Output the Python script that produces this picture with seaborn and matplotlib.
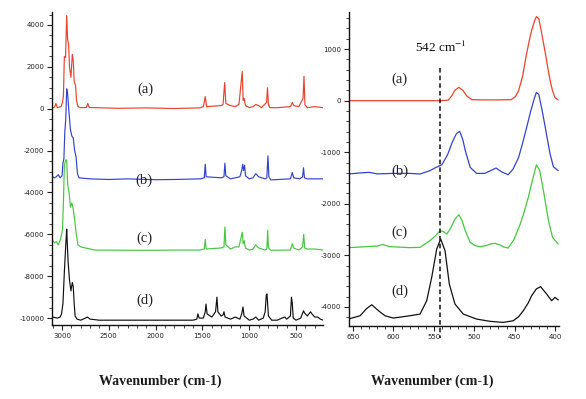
import matplotlib
matplotlib.use("Agg")
import matplotlib.pyplot as plt
import seaborn as sns
import pandas as pd
from matplotlib.ticker import MultipleLocator

# ---------------- data ----------------
# Left panel: full spectra, wavenumber (cm-1) vs intensity (offset)
left_wn_a = [3100, 3080, 3065, 3050, 3010, 2995, 2985, 2975, 2962, 2950, 2940, 2930, 2920, 2905,
             2890, 2880, 2870, 2855, 2845, 2830, 2800, 2740, 2725, 2710, 2400, 2100, 1800, 1530,
             1490, 1470, 1455, 1300, 1280, 1262, 1250, 1200, 1150, 1110, 1075, 1065, 1055, 1040,
             1000, 960, 930, 900, 870, 815, 805, 795, 780, 700, 560, 540, 525, 470, 425, 415,
             405, 380, 300, 210]
left_a = [50, 80, 250, 50, 100, 300, 600, 2500, 2450, 4450, 3300, 3100, 2000, 1500,
          2600, 2300, 1300, 1100, 400, 100, 50, 60, 250, 60, 20, 40, 10, 40,
          100, 580, 100, 150, 200, 1250, 250, 150, 100, 200, 1780, 400, 500, 150,
          50, 100, 200, 150, 50, 300, 1000, 200, 50, 50, 100, 300, 150, 100, 500, 1550,
          200, 50, 100, 50]

left_wn_b = [3100, 3080, 3060, 3040, 3020, 3000, 2990, 2980, 2970, 2960, 2950, 2940, 2925, 2910,
             2895, 2880, 2865, 2850, 2835, 2820, 2700, 2500, 2300, 2000, 1800, 1520, 1480, 1470,
             1460, 1300, 1270, 1260, 1250, 1200, 1100, 1080, 1070, 1060, 1050, 1040, 1000, 960,
             930, 900, 830, 812, 800, 790, 770, 560, 540, 525, 460, 430, 420, 410, 380, 300, 210]
left_b = [-3250, -3300, -3250, -3150, -3300, -3200, -2600, -2400, -1100, -500, 950, 700, -200, -1000,
          -1300, -1400, -2000, -2300, -3100, -3300, -3350, -3380, -3350, -3390, -3380, -3350, -3300, -2650,
          -3250, -3300, -3250, -2600, -3200, -3350, -3250, -2950, -2650, -2950, -2700, -3200, -3350, -3300,
          -3100, -3250, -3350, -3300, -2250, -3250, -3400, -3350, -3050, -3300, -3350, -3250, -2820, -3300,
          -3350, -3350, -3350]

left_wn_c = [3100, 3080, 3060, 3040, 3020, 3010, 2995, 2985, 2975, 2960, 2950, 2940, 2925, 2910,
             2895, 2880, 2865, 2850, 2830, 2800, 2750, 2700, 2650, 2300, 2000, 1800, 1530, 1480,
             1470, 1460, 1300, 1270, 1260, 1250, 1200, 1150, 1110, 1075, 1065, 1055, 1040, 1000,
             960, 930, 900, 830, 812, 803, 795, 770, 560, 540, 525, 470, 430, 418, 408, 380, 300, 210]
left_c = [-6300, -6400, -6350, -6500, -6300, -6100, -5800, -4500, -2700, -2450, -2450, -3600, -4000, -4700,
          -4500, -4800, -5300, -5900, -6500, -6600, -6650, -6700, -6750, -6760, -6760, -6750, -6750, -6700,
          -6250, -6700, -6650, -6600, -5650, -6500, -6700, -6600, -6600, -5900, -6450, -6300, -6650, -6750,
          -6700, -6500, -6650, -6750, -6700, -5800, -6650, -6760, -6750, -6450, -6650, -6750, -6600, -6000,
          -6650, -6700, -6700, -6750]

left_wn_d = [3100, 3050, 3020, 3005, 2990, 2975, 2960, 2950, 2945, 2935, 2920, 2905, 2890, 2880,
             2870, 2860, 2840, 2800, 2750, 2730, 2700, 2600, 2200, 1800, 1600, 1560, 1548, 1535,
             1490, 1470, 1462, 1450, 1400, 1360, 1345, 1335, 1300, 1280, 1270, 1258, 1200, 1150,
             1100, 1080, 1067, 1055, 1000, 960, 930, 900, 850, 830, 818, 811, 805, 795, 760, 700,
             650, 620, 600, 560, 549, 540, 530, 500, 450, 420, 410, 380, 345, 330, 300, 270, 240, 210]
left_d = [-9950, -10000, -9950, -9800, -9300, -7800, -6500, -5750, -6300, -7300, -8200, -8700, -8300, -8500,
          -9300, -9900, -10050, -10100, -10000, -9950, -10050, -10100, -10100, -10100, -10100, -10050, -9800, -10000,
          -10000, -9700, -9330, -9800, -9950, -9700, -9000, -9700, -9900, -9850, -9700, -9950, -10050, -9950,
          -10050, -9800, -9470, -9900, -10100, -10050, -9950, -10100, -10000, -9700, -8900, -8850, -9200, -9900, -10100, -10100,
          -10000, -9950, -10050, -9900, -9000, -9300, -10000, -10100, -10000, -9650, -9750, -9900, -9700, -9800, -9950, -9950, -10050, -10100]

# Right panel: 400-650 cm-1 region
right_wn_a = [655, 620, 590, 560, 542, 532, 528, 524, 519, 514, 509, 503, 490, 470, 454, 449, 445,
              440, 436, 432, 429, 425, 423, 420, 417, 414, 411, 408, 405, 403, 400, 396]
right_a = [0, 0, 0, 0, 0, 10, 90, 200, 258, 200, 90, 20, 15, 15, 20, 80, 194,
           480, 840, 1150, 1358, 1560, 1630, 1590, 1358, 1100, 840, 560, 320, 194, 60, 15]

right_wn_b = [655, 640, 630, 620, 600, 580, 567, 555, 548, 540, 533, 527, 522, 518, 514, 511, 505,
              497, 487, 480, 473, 466, 458, 452, 445, 440, 435, 430, 426, 423, 420, 416, 412,
              409, 406, 402, 396]
right_b = [-1420, -1400, -1390, -1420, -1410, -1410, -1422, -1358, -1300, -1242, -1050, -800, -640, -595,
           -760, -970, -1293, -1410, -1410, -1360, -1306, -1380, -1436, -1330, -1100, -820, -517, -200, 20,
           161, 120, -180, -517, -780, -1035, -1280, -1358]

right_wn_c = [655, 620, 613, 605, 580, 567, 555, 548, 542, 538, 534, 529, 524, 519, 515, 511, 505,
              499, 493, 485, 479, 474, 468, 463, 458, 451, 443, 438, 433, 428, 423, 419, 415, 411,
              408, 403, 396]
right_c = [-2850, -2820, -2790, -2830, -2850, -2845, -2716, -2620, -2522, -2540, -2587, -2470, -2300, -2212,
           -2330, -2522, -2748, -2810, -2832, -2810, -2775, -2768, -2800, -2840, -2858, -2700, -2393, -2150, -1875,
           -1550, -1242, -1350, -1681, -2050, -2328, -2651, -2781]

right_wn_d = [655.8, 641.3, 633, 626.9, 618, 610.4, 600.1, 579.5, 567, 558.8, 552.6, 546.4, 541.5, 536.1,
              530.8, 523.8, 513.5, 497, 480, 464, 451.6, 445, 439.2, 433, 428.9, 423, 417.7,
              414, 410.3, 404.1, 400, 395.9]
right_d = [-4236, -4171, -4030, -3958, -4080, -4171, -4216, -4171, -4139, -3880, -3427, -2877, -2683, -2910,
           -3556, -3944, -4139, -4236, -4280, -4300, -4268, -4190, -4074, -3920, -3783, -3650, -3608,
           -3680, -3750, -3880, -3815, -3865]

series_labels = ["(a)", "(b)", "(c)", "(d)"]
series_colors = ["#e8432c", "#3443cc", "#45c83f", "#111111"]

left_xticks = [3000, 2500, 2000, 1500, 1000, 500]
left_yticks = [4000, 2000, 0, -2000, -4000, -6000, -8000, -10000]
right_xticks = [650, 600, 550, 500, 450, 400]
right_yticks = [1000, 0, -1000, -2000, -3000, -4000]

marker_wn = 542
marker_text = "542 cm$^{-1}$"
xlabel = "Wavenumber (cm-1)"

# label positions (data coordinates)
left_label_pos = [(2110, 950), (2120, -3400), (2120, -6200), (2120, -9150)]
right_label_pos = [(592, 420), (592, -1360), (592, -2550), (592, -3700)]

# ---------------- drawing ----------------
sns.set_theme(style="ticks")
plt.rcParams["font.family"] = ["DejaVu Sans"]
plt.rcParams["mathtext.fontset"] = "stix"

fig = plt.figure(figsize=(5.86, 3.99), dpi=100)
axL = fig.add_axes([52 / 586, 1 - 325 / 399, 271 / 586, 313 / 399])
axR = fig.add_axes([349 / 586, 1 - 326 / 399, 210 / 586, 314 / 399])

left_sets = [(left_wn_a, left_a), (left_wn_b, left_b), (left_wn_c, left_c), (left_wn_d, left_d)]
right_sets = [(right_wn_a, right_a), (right_wn_b, right_b), (right_wn_c, right_c), (right_wn_d, right_d)]

for (xs, ys), col in zip(left_sets, series_colors):
    df = pd.DataFrame({"wn": xs, "I": ys})
    sns.lineplot(data=df, x="wn", y="I", ax=axL, color=col, linewidth=0.85,
                 estimator=None, sort=False)
for (xs, ys), col in zip(right_sets, series_colors):
    df = pd.DataFrame({"wn": xs, "I": ys})
    sns.lineplot(data=df, x="wn", y="I", ax=axR, color=col, linewidth=0.9,
                 estimator=None, sort=False)

axL.set_xlim(3107, 212)
axL.set_ylim(-10330, 4620)
axR.set_xlim(655, 395)
axR.set_ylim(-4370, 1720)

for ax, xt, yt, xmin, ymin in [(axL, left_xticks, left_yticks, 100, 500),
                                (axR, right_xticks, right_yticks, 10, 200)]:
    ax.set_xticks(xt)
    ax.set_yticks(yt)
    ax.set_xticklabels([str(v) for v in xt])
    ax.set_yticklabels([str(v) for v in yt])
    ax.xaxis.set_minor_locator(MultipleLocator(xmin))
    ax.yaxis.set_minor_locator(MultipleLocator(ymin))
    ax.tick_params(which="major", direction="out", length=3.5, width=0.8,
                   labelsize=5, colors="#222222", pad=2)
    ax.tick_params(which="minor", direction="out", length=2, width=0.6, colors="#222222")
    ax.set_xlabel("")
    ax.set_ylabel("")
    for s in ["top", "right"]:
        ax.spines[s].set_visible(False)
    for s in ["left", "bottom"]:
        ax.spines[s].set_linewidth(1.0)
        ax.spines[s].set_color("#111111")

for lab, (x, y) in zip(series_labels, left_label_pos):
    axL.text(x, y, lab, fontsize=10.5, family="Liberation Serif", ha="center", va="center",
             color="#222222")
for lab, (x, y) in zip(series_labels, right_label_pos):
    axR.text(x, y, lab, fontsize=10.5, family="Liberation Serif", ha="center", va="center",
             color="#222222")

axR.plot([marker_wn, marker_wn], [640, -4600], color="#111111", linewidth=1.1,
         linestyle=(0, (3, 2)), clip_on=False)
axR.text(marker_wn - 1, 1040, marker_text, fontsize=9.5, family="Liberation Serif",
         ha="center", va="center", color="#111111")

fig.text(160 / 586, 1 - 381 / 399, xlabel, fontsize=10, family="Liberation Serif",
         fontweight="bold", ha="center", va="center", color="#1a1a1a")
fig.text(432 / 586, 1 - 381 / 399, xlabel, fontsize=10, family="Liberation Serif",
         fontweight="bold", ha="center", va="center", color="#1a1a1a")

fig.savefig("out.png", dpi=100)
